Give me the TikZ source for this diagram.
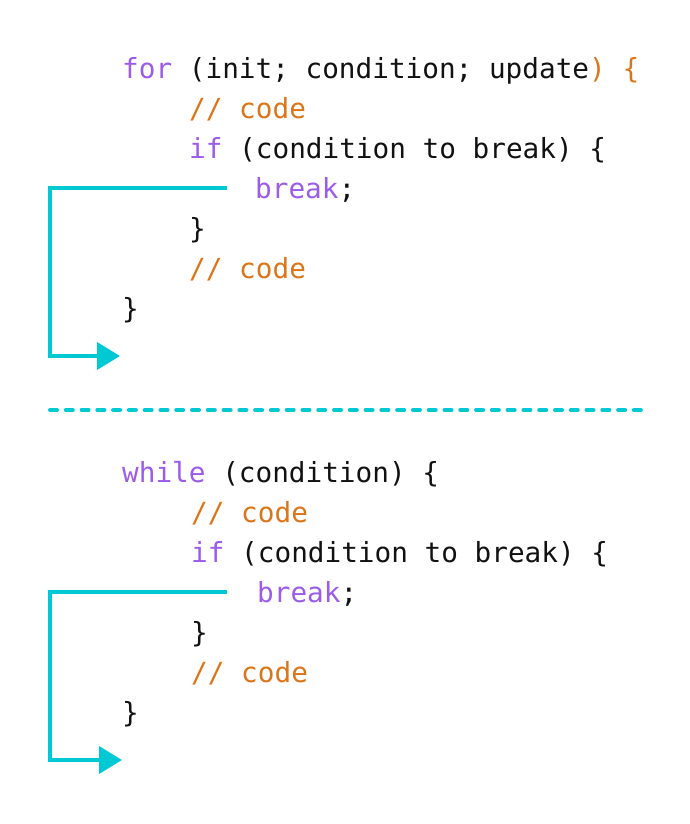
\documentclass[tikz,border=0pt]{standalone}
\usepackage{fontspec}
\setmonofont{DejaVu Sans Mono}
\usetikzlibrary{arrows.meta,calc}
\definecolor{kw}{HTML}{9B5CEB}
\definecolor{cm}{HTML}{DC7418}
\definecolor{ar}{HTML}{00C9D4}
\definecolor{tx}{HTML}{111111}
\tikzset{
  code/.style={anchor=base west, inner sep=0pt, text=tx, font=\ttfamily\fontsize{27.7}{40}\selectfont},
  flow/.style={draw=ar, line width=4pt, line join=miter, -{Triangle[length=23pt,width=27pt]}},
  sep/.style={draw=ar, line width=4pt, line cap=round, dash pattern=on 7pt off 8.78pt}
}
\begin{document}
\begin{tikzpicture}[x=1pt,y=-1pt]
\useasboundingbox (0,0) rectangle (690,824);
% first block
\node[code] (a1) at (122,78.5) {\textcolor{kw}{for} (init; condition; update\textcolor{cm}{) \{}};
\node[code] (a2) at (189,118.5) {\textcolor{cm}{// code}};
\node[code] (a3) at (189,158.5) {\textcolor{kw}{if} (condition to break) \{};
\node[code] (a4) at (255,198.5) {\textcolor{kw}{break};};
\node[code] (a5) at (189,238.5) {\}};
\node[code] (a6) at (189,278.5) {\textcolor{cm}{// code}};
\node[code] (a7) at (122,318.5) {\}};
\coordinate (as) at (227,188);
\coordinate (ac) at (50,188);
\coordinate (ad) at (50,356);
\coordinate (ae) at (120,356);
\draw[flow] (as) -- (ac) -- (ad) -- (ae);
% separator
\coordinate (s1) at (50,410);
\coordinate (s2) at (641,410);
\draw[sep] (s1) -- (s2);
% second block
\node[code] (b1) at (122,482.5) {\textcolor{kw}{while} (condition) \{};
\node[code] (b2) at (191,522.5) {\textcolor{cm}{// code}};
\node[code] (b3) at (191,562.5) {\textcolor{kw}{if} (condition to break) \{};
\node[code] (b4) at (257,602.5) {\textcolor{kw}{break};};
\node[code] (b5) at (191,642.5) {\}};
\node[code] (b6) at (191,682.5) {\textcolor{cm}{// code}};
\node[code] (b7) at (122,722.5) {\}};
\coordinate (bs) at (227,592);
\coordinate (bc) at (50,592);
\coordinate (bd) at (50,760);
\coordinate (be) at (122,760);
\draw[flow] (bs) -- (bc) -- (bd) -- (be);
\end{tikzpicture}
\end{document}
